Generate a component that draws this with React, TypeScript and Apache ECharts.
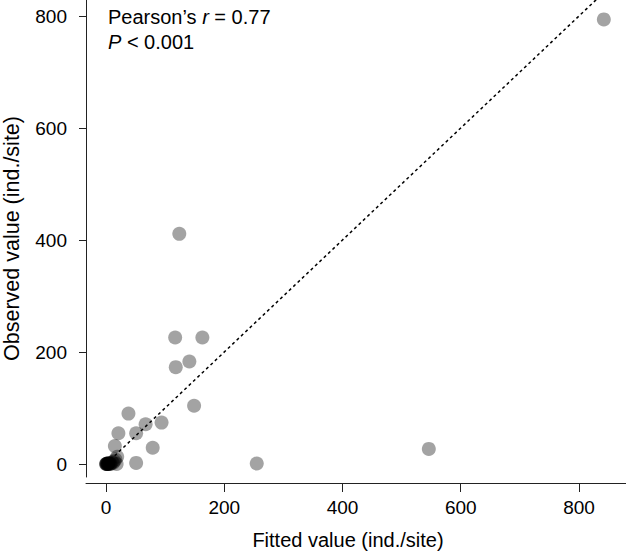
import React, { useEffect, useRef } from "react";
import * as echarts from "echarts";

// Fitted (x) vs observed (y) values, ind./site
const fittedValues: number[] = [
  842, 124, 117, 163, 141, 118, 149, 94, 67, 79, 38, 51, 21, 15, 51, 19, 18, 255, 546,
  0, 0.5, 1, 1.5, 2, 2.5, 3, 3.5, 4, 5, 6, 7, 8, 10, 12, 14, 16,
];
const observedValues: number[] = [
  794, 411, 226, 226, 183, 173, 104, 74, 71, 29, 90, 55, 55, 32, 2, 13, 0, 1, 27,
  0, 0, 0.5, 0, 1, 0, 0, 1, 0, 2, 0, 1, 0, 3, 2, 5, 8,
];
const xTicks: number[] = [0, 200, 400, 600, 800];
const yTicks: number[] = [0, 200, 400, 600, 800];
const lineX: number[] = [0, 830];
const lineY: number[] = [0, 830];

const FONT = "'Liberation Sans', Arial, Helvetica, sans-serif";

export default function App() {
  const ref = useRef<HTMLDivElement>(null);
  useEffect(() => {
    if (!ref.current) return;
    const chart = echarts.init(ref.current, undefined, { renderer: "svg" });
    const points = fittedValues.map((x, i) => [x, observedValues[i]]);
    const line = lineX.map((x, i) => [x, lineY[i]]);
    chart.setOption({
      animation: false,
      backgroundColor: "#ffffff",
      grid: { left: 86, right: 0, top: 0, bottom: 75, containLabel: false, outerBoundsMode: "none" },
      xAxis: {
        type: "value",
        min: -33.8,
        max: 879.5,
        offset: 6,
        name: "Fitted value (ind./site)",
        nameLocation: "middle",
        nameGap: 47,
        nameTextStyle: { fontFamily: FONT, fontSize: 20, color: "#000", padding: [0, 16, 0, 0] },
        axisLine: { show: true, onZero: false, lineStyle: { color: "#222", width: 1 } },
        axisTick: { show: true, inside: false, length: 9, customValues: xTicks, lineStyle: { color: "#222", width: 1 } },
        axisLabel: { customValues: xTicks, margin: 15, fontFamily: FONT, fontSize: 19, color: "#000" },
        splitLine: { show: false },
      },
      yAxis: {
        type: "value",
        min: -23.2,
        max: 828.6,
        name: "Observed value (ind./site)",
        nameLocation: "middle",
        nameGap: 63,
        nameTextStyle: { fontFamily: FONT, fontSize: 21.5, color: "#000" },
        axisLine: { show: true, onZero: false, lineStyle: { color: "#222", width: 1 } },
        axisTick: { show: true, inside: false, length: 7, customValues: yTicks, lineStyle: { color: "#222", width: 1 } },
        axisLabel: { customValues: yTicks, margin: 19, fontFamily: FONT, fontSize: 19, color: "#000" },
        splitLine: { show: false },
      },
      graphic: [
        {
          type: "text",
          left: 108,
          top: 4,
          style: {
            text: "Pearson’s {i|r} = 0.77\n{i|P} < 0.001",
            fontFamily: FONT,
            fontSize: 20,
            lineHeight: 25,
            fill: "#000",
            rich: {
              i: { fontStyle: "italic", fontFamily: FONT, fontSize: 20, lineHeight: 25, fill: "#000" },
            },
          },
        },
      ],
      series: [
        {
          type: "line",
          data: line,
          symbol: "none",
          z: 1,
          lineStyle: { color: "#000", width: 1.5, type: [3, 3] },
        },
        {
          type: "scatter",
          data: points,
          symbol: "circle",
          symbolSize: 14,
          z: 2,
          itemStyle: { color: "rgba(0,0,0,0.45)", borderWidth: 0 },
        },
      ],
    });
    return () => chart.dispose();
  }, []);
  return <div ref={ref} style={{ width: 626, height: 552, position: "absolute", left: 0, top: 0 }} />;
}
